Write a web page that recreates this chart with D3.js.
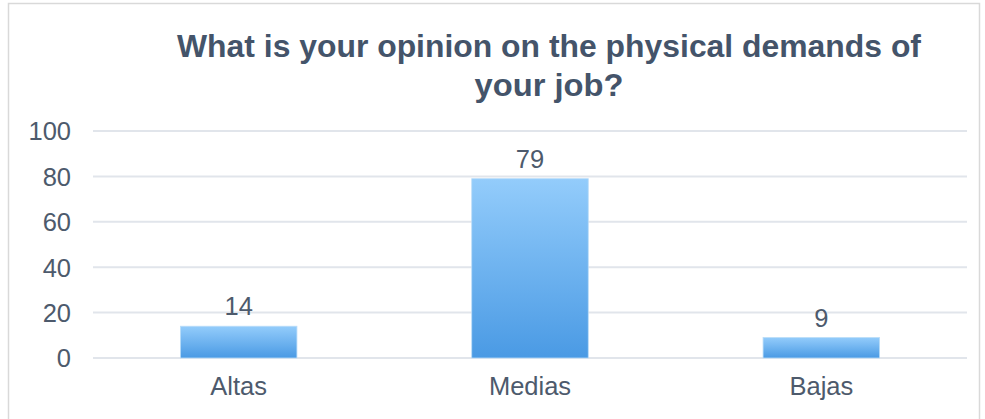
<!DOCTYPE html>
<html><head><meta charset="utf-8">
<script src="https://cdn.jsdelivr.net/npm/d3@7"></script>
<style>html,body{margin:0;padding:0;background:#fff;}svg{display:block;}</style>
</head><body>
<script>
const categories = ["Altas", "Medias", "Bajas"];
const values = [14, 79, 9];
const yTicks = [0, 20, 40, 60, 80, 100];
const titleLines = ["What is your opinion on the physical demands of", "your job?"];

const W = 985, H = 419;
const svg = d3.select("body").append("svg").attr("width", W).attr("height", H);
const font = "Arial, 'Liberation Sans', Helvetica, sans-serif";

svg.append("rect").attr("x", 8.5).attr("y", 3.5).attr("width", 971).attr("height", 440)
  .attr("fill", "#fff").attr("stroke", "#d9d9d9").attr("stroke-width", 1.5);

const defs = svg.append("defs");
const grad = defs.append("linearGradient").attr("id", "barGrad").attr("x1", 0).attr("y1", 0).attr("x2", 0).attr("y2", 1);
grad.append("stop").attr("offset", "0%").attr("stop-color", "#93CCFB");
grad.append("stop").attr("offset", "100%").attr("stop-color", "#4A9AE4");

const x = d3.scaleBand().domain(categories).range([93, 967]).paddingInner(0.6).paddingOuter(0.3);
const y = d3.scaleLinear().domain([0, 100]).range([358, 131]);

// gridlines
svg.append("g").selectAll("line").data(yTicks).join("line")
  .attr("x1", 93).attr("x2", 967)
  .attr("y1", d => y(d)).attr("y2", d => y(d))
  .attr("stroke", "#e1e5eb").attr("stroke-width", 2);

// y axis labels
const yAxis = d3.axisLeft(y).tickValues(yTicks).tickSize(0).tickPadding(0);
const gy = svg.append("g").attr("transform", "translate(71,0)").call(yAxis);
gy.select(".domain").remove();
gy.selectAll("text").attr("font-family", font).attr("font-size", 25.5).attr("fill", "#4d5a6c").attr("dy", "0.35em");

// x axis labels
const xAxis = d3.axisBottom(x).tickSize(0).tickPadding(0);
const gx = svg.append("g").attr("transform", "translate(0,377)").call(xAxis);
gx.select(".domain").remove();
gx.selectAll("text").attr("font-family", font).attr("font-size", 25.5).attr("fill", "#4d5a6c").attr("dy", "0.72em");

// bars
svg.append("g").selectAll("rect").data(values).join("rect")
  .attr("x", (d, i) => x(categories[i]))
  .attr("width", x.bandwidth())
  .attr("y", d => y(d))
  .attr("height", d => y(0) - y(d))
  .attr("fill", "url(#barGrad)")
  .attr("stroke", "#b9dcf8").attr("stroke-width", 0.8);

// value labels
svg.append("g").selectAll("text").data(values).join("text")
  .attr("x", (d, i) => x(categories[i]) + x.bandwidth() / 2)
  .attr("y", d => y(d) - 11)
  .attr("text-anchor", "middle")
  .attr("font-family", font).attr("font-size", 25.5).attr("fill", "#4d5a6c")
  .text(d => d);

// title
const tl = [{t: titleLines[0], y: 57, w: 744, cx: 549}, {t: titleLines[1], y: 96, w: 149, cx: 549}];
svg.append("g").selectAll("text").data(tl).join("text")
  .attr("x", d => d.cx).attr("y", d => d.y)
  .attr("text-anchor", "middle")
  .attr("font-family", font).attr("font-weight", "bold").attr("font-size", 31.5)
  .attr("fill", "#44546a")
  .attr("textLength", d => d.w).attr("lengthAdjust", "spacingAndGlyphs")
  .text(d => d.t);
</script>
</body></html>
